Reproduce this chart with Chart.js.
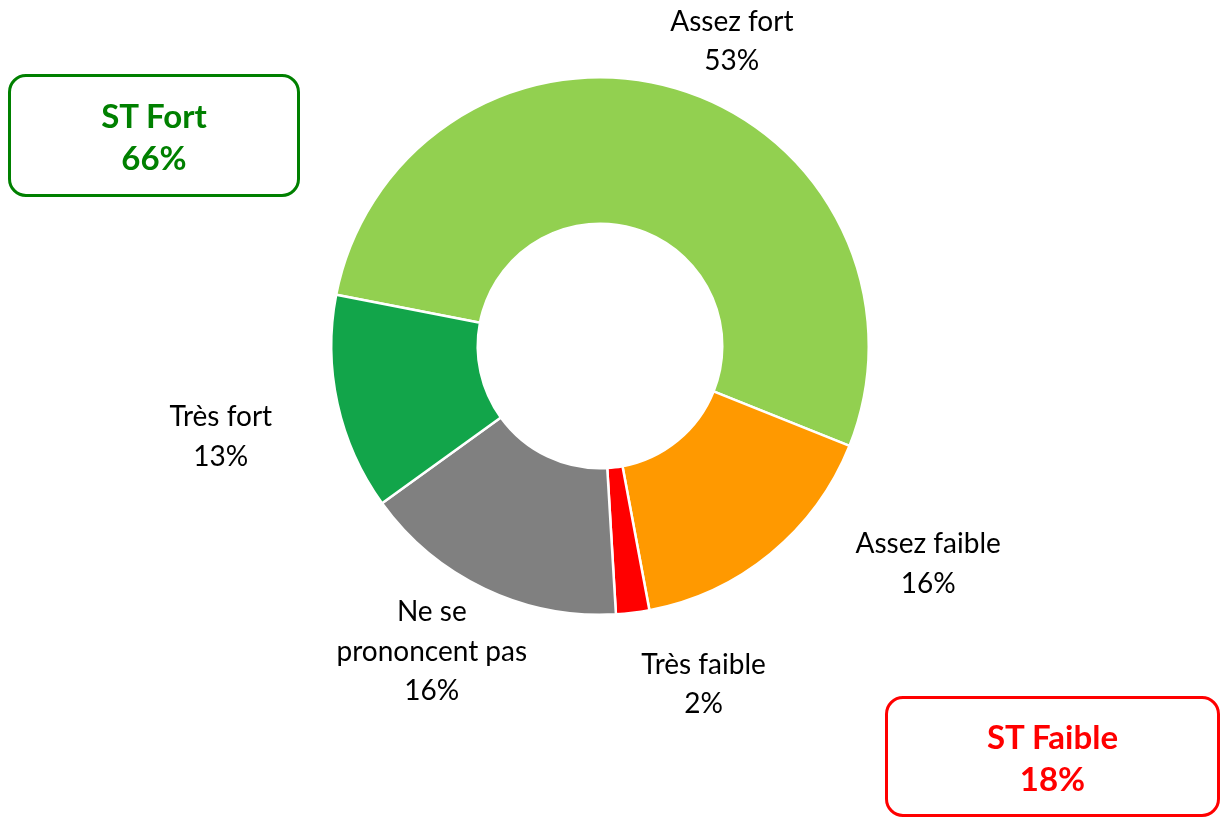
<!DOCTYPE html>
<html>
<head>
<meta charset="utf-8">
<script src="https://cdn.jsdelivr.net/npm/chart.js@4.4.0/dist/chart.umd.min.js"></script>
<style>
  html, body { margin: 0; padding: 0; background: #fff; }
  #wrap { position: relative; width: 1221px; height: 820px; }
  .box {
    position: absolute; box-sizing: border-box; border: 3px solid; border-radius: 18px;
    font-family: Lato, "Open Sans", sans-serif; font-weight: bold; font-size: 33px;
    text-align: center; line-height: 42px; display: flex; flex-direction: column; justify-content: center;
  }
  #fort { left: 8px; top: 74px; width: 292px; height: 123px; border-color: #008000; color: #008000; }
  #faible { left: 885px; top: 696px; width: 335px; height: 121px; border-color: #ff0000; color: #ff0000; }
</style>
</head>
<body>
<div id="wrap">
  <canvas id="donut" width="1221" height="820"></canvas>
  <div class="box" id="fort"><div>ST Fort</div><div>66%</div></div>
  <div class="box" id="faible"><div>ST Faible</div><div>18%</div></div>
</div>
<script>
// slices, clockwise starting from the left side
const categories = ['Assez fort', 'Assez faible', 'Très faible', 'Ne se prononcent pas', 'Très fort']
const labelLines = [['Assez fort'], ['Assez faible'], ['Très faible'], ['Ne se', 'prononcent pas'], ['Très fort']]
const values = [53, 16, 2, 16, 13]
const colors = ['#92d050', '#ff9900', '#ff0000', '#808080', '#12a54a']

// label placement around each arc: angle shift (deg) and distance as a share of the outer radius
const labelPlace = [[7, 1.235], [-17, 1.466], [-10, 1.317], [3.4, 1.299], [-1.1, 1.451]]

const sliceLabels = {
    id: 'sliceLabels',
    afterDatasetsDraw(chart) {
        let ctx = chart.ctx
        let meta = chart.getDatasetMeta(0)
        ctx.save()
        ctx.fillStyle = '#000'
        ctx.font = '28px Lato, "Open Sans", sans-serif'
        ctx.textAlign = 'center'
        ctx.textBaseline = 'middle'
        meta.data.forEach((arc, i) => {
            let p = arc.getProps(['x', 'y', 'startAngle', 'endAngle', 'outerRadius'], true)
            let mid = (p.startAngle + p.endAngle) / 2 + labelPlace[i][0] * Math.PI / 180
            let r = p.outerRadius * labelPlace[i][1]
            let cx = p.x + Math.cos(mid) * r
            let cy = p.y + Math.sin(mid) * r
            let lines = labelLines[i].concat([values[i] + '%'])
            let lh = 39.5
            let top = cy - (lines.length - 1) * lh / 2
            lines.forEach((t, k) => ctx.fillText(t, cx, top + k * lh))
        })
        ctx.restore()
    }
}

new Chart('donut', {
    type: 'doughnut',
    data: {
        labels: categories,
        datasets: [{
            data: values,
            backgroundColor: colors,
            borderColor: '#ffffff',
            borderWidth: 2.5
        }]
    },
    options: {
        responsive: false,
        animation: false,
        rotation: -79,
        cutout: '45.5%',
        layout: { padding: { left: 330, right: 351, top: 76, bottom: 204 } },
        plugins: {
            legend: { display: false },
            tooltip: { enabled: false }
        }
    },
    plugins: [sliceLabels]
})
</script>
</body>
</html>
